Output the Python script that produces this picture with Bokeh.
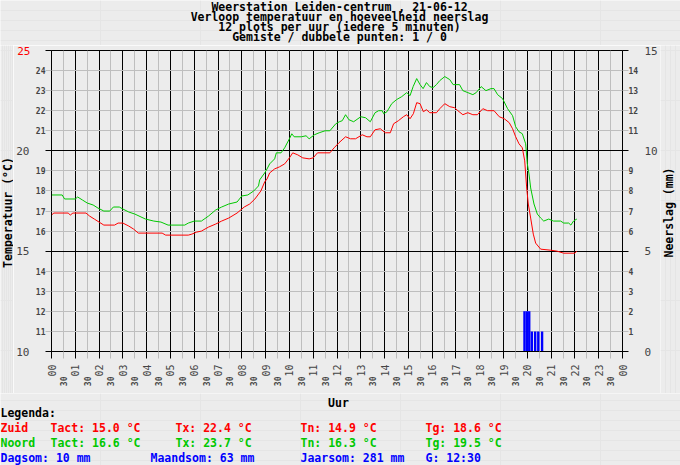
import math
from bokeh.plotting import figure
from bokeh.layouts import column, row
from bokeh.models import Range1d, LinearAxis, FixedTicker, Grid, Label
from bokeh.embed import file_html
from bokeh.resources import INLINE

# ---------------- data ----------------
title_lines = [
    "Weerstation Leiden-centrum , 21-06-12",
    "Verloop temperatuur en hoeveelheid neerslag",
    "12 plots per uur (iedere 5 minuten)",
    "Gemiste / dubbele punten: 1 / 0",
]

zuid_hours = [0.0, 0.1, 0.7, 0.79, 0.9, 1.45, 1.6, 1.8, 2.0, 2.2, 2.65, 2.8, 3.0, 3.25, 3.45,
              3.65, 4.65, 4.8, 5.75, 5.9, 6.1, 6.3, 6.6, 6.9, 7.15, 7.45, 7.8, 8.1, 8.33, 8.55,
              8.8, 8.96, 9.06, 9.17, 9.38, 9.58, 9.8, 10.0, 10.14, 10.35, 10.56, 10.83, 11.0,
              11.18, 11.7, 11.88, 12.08, 12.36, 12.57, 12.78, 13.06, 13.26, 13.4, 13.6, 13.82,
              14.03, 14.24, 14.38, 14.58, 14.79, 14.93, 15.07, 15.21, 15.35, 15.49, 15.63, 15.76,
              15.9, 16.18, 16.32, 16.53, 16.74, 16.94, 17.08, 17.29, 17.5, 17.71, 17.9, 18.13,
              18.33, 18.6, 18.82, 19.03, 19.24, 19.38, 19.51, 19.65, 19.79, 19.89, 19.97, 20.04,
              20.14, 20.25, 20.35, 20.56, 20.97, 21.25, 21.53, 22.0, 22.08]
zuid_temp = [16.8, 16.9, 16.9, 16.8, 16.9, 16.9, 16.75, 16.6, 16.45, 16.3, 16.3, 16.4, 16.4, 16.25, 16.1,
             15.9, 15.9, 15.8, 15.8, 15.85, 15.95, 16.0, 16.2, 16.35, 16.5, 16.65, 16.9, 17.2, 17.35, 17.6,
             18.0, 18.45, 18.6, 18.9, 19.1, 19.2, 19.35, 19.65, 19.9, 19.8, 19.65, 19.6, 19.65,
             19.9, 19.9, 20.15, 20.4, 20.7, 20.6, 20.6, 20.8, 20.7, 20.7, 21.05, 21.1,
             20.9, 20.9, 21.35, 21.5, 21.7, 21.8, 21.6, 21.85, 22.4, 22.35, 21.95, 22.05,
             21.9, 21.9, 22.1, 22.35, 22.2, 22.15, 22.0, 21.8, 21.9, 21.8, 21.8, 22.1,
             22.0, 22.0, 21.7, 21.6, 21.4, 21.1, 20.7, 20.35, 20.15, 19.5, 18.2, 17.35,
             16.65, 15.85, 15.4, 15.1, 15.05, 15.0, 14.9, 14.9, 15.0]

noord_hours = [0.0, 0.45, 0.55, 1.0, 1.1, 1.3, 1.5, 1.75, 1.95, 2.2, 2.45, 2.6, 2.85, 3.0, 3.25,
               3.5, 3.95, 4.3, 4.6, 4.9, 5.6, 5.75, 6.0, 6.3, 6.6, 6.9, 7.15, 7.45, 7.8, 8.0,
               8.25, 8.5, 8.7, 8.75, 8.96, 9.06, 9.17, 9.38, 9.45, 9.65, 9.8, 10.0, 10.1, 10.2,
               10.5, 10.7, 10.83, 11.05, 11.25, 11.5, 11.7, 11.95, 12.1, 12.22, 12.36, 12.5,
               12.7, 13.0, 13.2, 13.4, 13.6, 13.75, 13.9, 13.96, 14.1, 14.3, 14.5, 14.72, 14.93,
               15.07, 15.2, 15.35, 15.49, 15.62, 15.76, 15.9, 16.04, 16.18, 16.32, 16.53, 16.74,
               16.88, 17.15, 17.29, 17.5, 17.71, 17.85, 18.06, 18.26, 18.47, 18.6, 18.75, 18.96,
               19.17, 19.38, 19.51, 19.65, 19.79, 19.93, 20.0, 20.07, 20.14, 20.28, 20.42, 20.56,
               20.69, 20.9, 21.1, 21.4, 21.53, 21.74, 21.83, 21.94, 22.08]
noord_temp = [17.8, 17.8, 17.6, 17.6, 17.7, 17.55, 17.4, 17.3, 17.15, 17.0, 17.0, 17.2, 17.2, 17.1, 16.95,
              16.85, 16.6, 16.5, 16.45, 16.3, 16.3, 16.4, 16.5, 16.5, 16.75, 17.05, 17.2, 17.35, 17.45, 17.75,
              17.8, 18.0, 18.25, 18.55, 18.9, 19.1, 19.35, 19.6, 19.9, 19.9, 20.15, 20.6, 20.85, 20.7,
              20.7, 20.75, 20.6, 20.8, 20.9, 21.0, 21.0, 21.35, 21.45, 21.5, 21.8, 21.55,
              21.45, 21.7, 21.65, 21.45, 21.9, 22.0, 22.0, 21.85, 21.95, 22.35, 22.55, 22.7, 22.9,
              22.75, 23.2, 23.6, 23.3, 23.1, 23.4, 23.2, 23.15, 23.3, 23.5, 23.7, 23.55,
              23.3, 23.3, 23.0, 22.9, 22.8, 22.9, 23.2, 23.0, 23.1, 23.1, 22.8, 22.6,
              22.1, 21.75, 21.2, 20.95, 20.85, 20.35, 19.35, 18.85, 18.15, 17.35, 16.85, 16.65,
              16.5, 16.6, 16.5, 16.5, 16.4, 16.4, 16.3, 16.5, 16.6]

rain_hours = [19.88, 19.98, 20.08, 20.19, 20.33, 20.46, 20.62]
rain_mm = [2, 2, 2, 1, 1, 1, 1]

hour_ticks = list(range(25))
hour_labels = ["00", "01", "02", "03", "04", "05", "06", "07", "08", "09", "10", "11", "12",
               "13", "14", "15", "16", "17", "18", "19", "20", "21", "22", "23", "00"]
half_ticks = [h + 0.5 for h in range(24)]
half_label = "30"

temp_major = [10, 15, 20, 25]
temp_minor = [11, 12, 13, 14, 16, 17, 18, 19, 21, 22, 23, 24]
rain_major = [0, 5, 10, 15]
rain_minor = [1, 2, 3, 4, 6, 7, 8, 9, 11, 12, 13, 14]

x_title = "Uur"
y_title = "Temperatuur (°C)"
y2_title = "Neerslag (mm)"

legend_title = "Legenda:"
legend_rows = [
    ["Zuid", "Tact: 15.0 °C", "Tx: 22.4 °C", "Tn: 14.9 °C", "Tg: 18.6 °C"],
    ["Noord", "Tact: 16.6 °C", "Tx: 23.7 °C", "Tn: 16.3 °C", "Tg: 19.5 °C"],
]
sum_row = ["Dagsom: 10 mm", "Maandsom: 63 mm", "Jaarsom: 281 mm", "G: 12:30"]

# ---------------- style ----------------
BG = "#ECECEC"
GRAY = "#BEBEBE"
RED = "#FF0000"
GREEN = "#00C800"
BLUE = "#0000FF"
MONO = "DejaVu Sans Mono"
W = 680
TOP_H = 45          # title strip: page y 0..45
MAIN_BOTTOM = 393   # main plot row: page y 45..393
PAGE_H = 465        # legend strip: page y 393..465
LSTRIP = 13         # left title strip: page x 0..13
RSTRIP_X = 660      # right title strip: page x 660..680
FL, FR, FT, FB = 50, 626, 50, 351   # frame edges in page pixels


def no_align(f):
    if "frame_align" in f.properties():
        f.frame_align = False
    return f


def text_strip(x0, x1, y0, y1):
    f = figure(width=x1 - x0, height=y1 - y0, output_backend="svg", toolbar_location=None,
               x_range=Range1d(x0, x1), y_range=Range1d(y1, y0),
               x_axis_location=None, y_axis_location=None, title=None,
               min_border=0, min_border_left=0, min_border_right=0,
               min_border_top=0, min_border_bottom=0,
               background_fill_color=BG, border_fill_color=BG, outline_line_color=None)
    return no_align(f)


def lab(f, text, X, Y, color="black", size="11.5px", align="left", angle=0):
    f.add_layout(Label(text=text, x=X, y=Y, text_font=MONO, text_font_size=size,
                       text_font_style="bold", text_color=color, text_align=align,
                       text_baseline="middle", angle=angle))


# ---- title strip ----
top = text_strip(0, W, 0, TOP_H)
for i, t in enumerate(title_lines):
    lab(top, t, 339, 6.5 + 10.1 * i, align="center")

# ---- side strips with the axis titles ----
lstrip = text_strip(0, LSTRIP, TOP_H, MAIN_BOTTOM)
lab(lstrip, y_title, 7, 212, align="center", angle=math.pi / 2)
rstrip = text_strip(RSTRIP_X, W, TOP_H, MAIN_BOTTOM)
lab(rstrip, y2_title, 668, 212, align="center", angle=math.pi / 2)

# ---- main plot ----
p = figure(width=RSTRIP_X - LSTRIP, height=MAIN_BOTTOM - TOP_H, output_backend="svg",
           toolbar_location=None,
           x_range=Range1d(0, 24), y_range=Range1d(10, 25),
           x_axis_location=None, y_axis_location=None, title=None,
           min_border_left=FL - LSTRIP, min_border_right=RSTRIP_X - FR,
           min_border_top=FT - TOP_H, min_border_bottom=MAIN_BOTTOM - FB,
           background_fill_color=BG, border_fill_color=BG,
           outline_line_color="black", outline_line_width=1)
no_align(p)
p.extra_y_ranges = {"rain": Range1d(0, 15)}

hour_ticker = FixedTicker(ticks=hour_ticks, minor_ticks=half_ticks)
temp_ticker = FixedTicker(ticks=temp_major, minor_ticks=temp_minor)

p.add_layout(Grid(dimension=0, ticker=hour_ticker, grid_line_color="black",
                  minor_grid_line_color=GRAY))
p.add_layout(Grid(dimension=1, ticker=temp_ticker, grid_line_color="black",
                  minor_grid_line_color=GRAY))


def small_axis(**kw):
    return LinearAxis(axis_line_color="black",
                      major_tick_line_color=GRAY, major_tick_in=0, major_tick_out=6,
                      minor_tick_line_color="black", minor_tick_in=0, minor_tick_out=6,
                      major_label_text_font=MONO, major_label_text_font_style="bold",
                      major_label_text_font_size="8px", major_label_standoff=0, **kw)


def big_axis(**kw):
    return LinearAxis(axis_line_color=None, major_tick_line_color=None, minor_tick_line_color=None,
                      major_tick_in=0, major_tick_out=0, minor_tick_in=0, minor_tick_out=0,
                      major_label_text_font=MONO, major_label_text_font_style="normal",
                      major_label_text_font_size="11px", **kw)


# left axes: minor labels, red 25, black 10/15/20 (pulled back into the same column)
p.add_layout(small_axis(ticker=FixedTicker(ticks=temp_minor, minor_ticks=temp_major)), "left")
p.add_layout(big_axis(ticker=FixedTicker(ticks=[temp_major[-1]], minor_ticks=[]),
                      major_label_text_color=RED, major_label_standoff=2), "left")
p.add_layout(big_axis(ticker=FixedTicker(ticks=temp_major[:-1], minor_ticks=[]),
                      major_label_standoff=-15), "left")
# right axes
p.add_layout(small_axis(y_range_name="rain",
                        ticker=FixedTicker(ticks=rain_minor, minor_ticks=rain_major)), "right")
p.add_layout(big_axis(y_range_name="rain", ticker=FixedTicker(ticks=rain_major, minor_ticks=[]),
                      major_label_standoff=3), "right")
# bottom axes
p.add_layout(LinearAxis(ticker=hour_ticker, axis_line_color="black",
                        major_tick_line_color="black", major_tick_in=0, major_tick_out=7,
                        minor_tick_line_color=GRAY, minor_tick_in=0, minor_tick_out=7,
                        major_label_overrides={h: l for h, l in zip(hour_ticks, hour_labels)},
                        major_label_orientation=math.pi / 2, major_label_standoff=6,
                        major_label_text_font=MONO, major_label_text_font_size="10px"), "below")
p.add_layout(LinearAxis(ticker=FixedTicker(ticks=half_ticks, minor_ticks=[]),
                        axis_line_color=None, major_tick_line_color=None,
                        minor_tick_line_color=None, major_tick_in=0, major_tick_out=0,
                        minor_tick_in=0, minor_tick_out=0,
                        major_label_overrides={h: half_label for h in half_ticks},
                        major_label_orientation=math.pi / 2, major_label_standoff=-3,
                        major_label_text_font=MONO, major_label_text_font_style="bold",
                        major_label_text_font_size="8px"), "below")

# data
p.vbar(x=rain_hours, top=rain_mm, bottom=0, width=0.1, y_range_name="rain",
       fill_color=BLUE, line_color=None)
p.line(zuid_hours, zuid_temp, line_color=RED, line_width=1)
p.line(noord_hours, noord_temp, line_color=GREEN, line_width=1)

# ---- legend strip (with the x-axis title) ----
bot = text_strip(0, W, MAIN_BOTTOM, PAGE_H)
lab(bot, x_title, 338, 402, align="center")
cols = [0, 50, 175, 300, 425]
lab(bot, legend_title, 0, 412)
for rw, color, yy in zip(legend_rows, [RED, GREEN], [427, 442]):
    for txt, cx in zip(rw, cols):
        lab(bot, txt, cx, yy, color=color)
for txt, cx in zip(sum_row, [0, 150, 300, 425]):
    lab(bot, txt, cx, 457, color=BLUE)

layout = column(top, row(lstrip, p, rstrip, spacing=0), bot, spacing=0)
open("out.html", "w").write(file_html(layout, INLINE))
